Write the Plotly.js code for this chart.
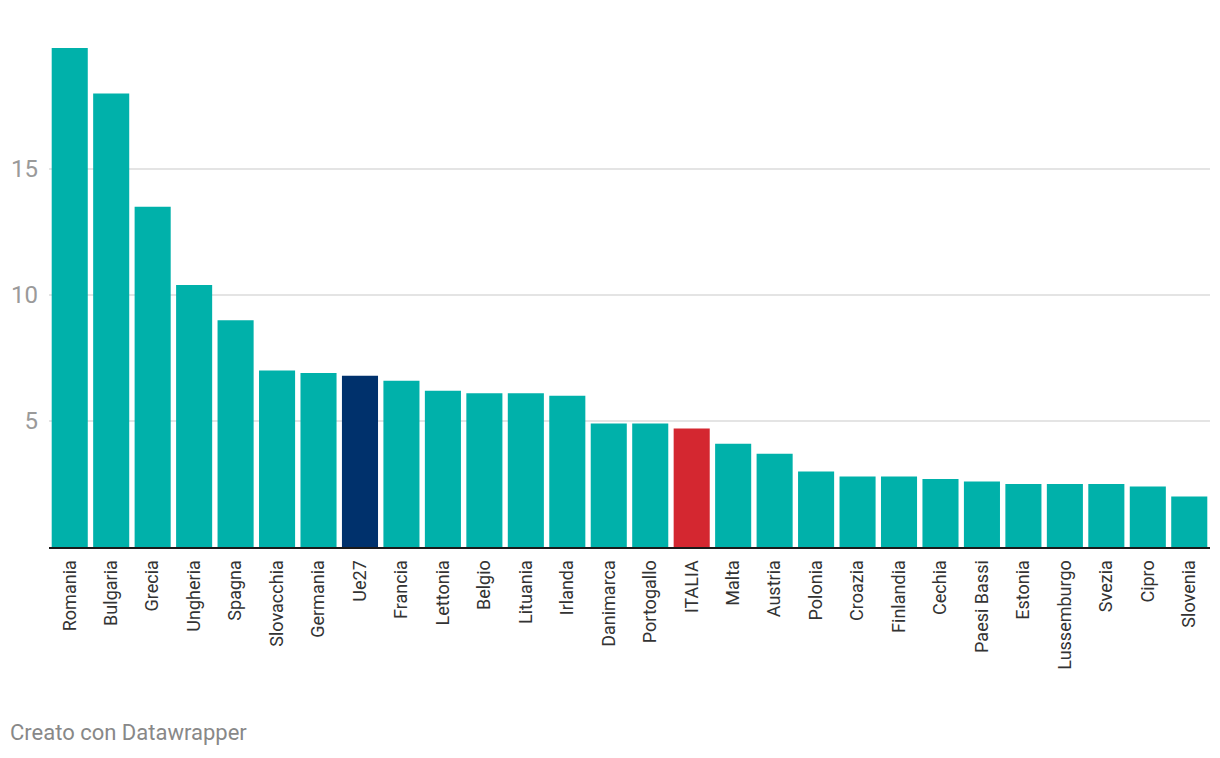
<!DOCTYPE html>
<html>
<head>
<meta charset="utf-8">
<script src="https://cdn.plot.ly/plotly-3.0.1.min.js"></script>
<style>
html,body{margin:0;padding:0;background:#fff;}
#chart{width:1220px;height:758px;}
</style>
</head>
<body>
<div id="chart"></div>
<script>
const countries = ["Romania","Bulgaria","Grecia","Ungheria","Spagna","Slovacchia","Germania","Ue27","Francia","Lettonia","Belgio","Lituania","Irlanda","Danimarca","Portogallo","ITALIA","Malta","Austria","Polonia","Croazia","Finlandia","Cechia","Paesi Bassi","Estonia","Lussemburgo","Svezia","Cipro","Slovenia"];
const values = [19.8,18.0,13.5,10.4,9.0,7.0,6.9,6.8,6.6,6.2,6.1,6.1,6.0,4.9,4.9,4.7,4.1,3.7,3.0,2.8,2.8,2.7,2.6,2.5,2.5,2.5,2.4,2.0];
const yTicks = [5,10,15];
const yTickLabels = ["5","10","15"];

const teal = "#00b1aa", navy = "#00316c", red = "#d42730";
const colors = countries.map(c => c === "Ue27" ? navy : (c === "ITALIA" ? red : teal));

const trace = {
  type: "bar",
  x: countries,
  y: values,
  marker: {color: colors},
  hoverinfo: "x+y"
};

const layout = {
  width: 1220, height: 758,
  margin: {l: 49, r: 10, t: 43, b: 211},
  paper_bgcolor: "#fff", plot_bgcolor: "#fff",
  bargap: 0.13,
  showlegend: false,
  font: {family: "Roboto, sans-serif"},
  xaxis: {
    type: "category",
    tickangle: -90,
    tickfont: {size: 18, color: "#333", family: "Roboto, sans-serif"},
    showgrid: false,
    zeroline: false,
    showline: true, linecolor: "#1a1a1a", linewidth: 2,
    ticks: "", ticklabelstandoff: 4,
    fixedrange: true
  },
  yaxis: {
    range: [0, 20],
    tickvals: yTicks, ticktext: yTickLabels,
    tickfont: {size: 24, color: "#9a9a9a", family: "Roboto, sans-serif"},
    showgrid: true, gridcolor: "#e4e4e4", gridwidth: 1.5,
    zeroline: false, showline: false, ticks: "",
    ticklabelstandoff: 10,
    fixedrange: true
  },
  annotations: [{
    text: "Creato con Datawrapper",
    xref: "paper", yref: "paper", x: 0, y: 0,
    xanchor: "left", yanchor: "middle",
    xshift: -41, yshift: -185,
    showarrow: false,
    font: {size: 22, color: "#888", family: "Roboto, sans-serif"}
  }]
};

Plotly.newPlot("chart", [trace], layout, {displayModeBar: false, staticPlot: true});
</script>
</body>
</html>
